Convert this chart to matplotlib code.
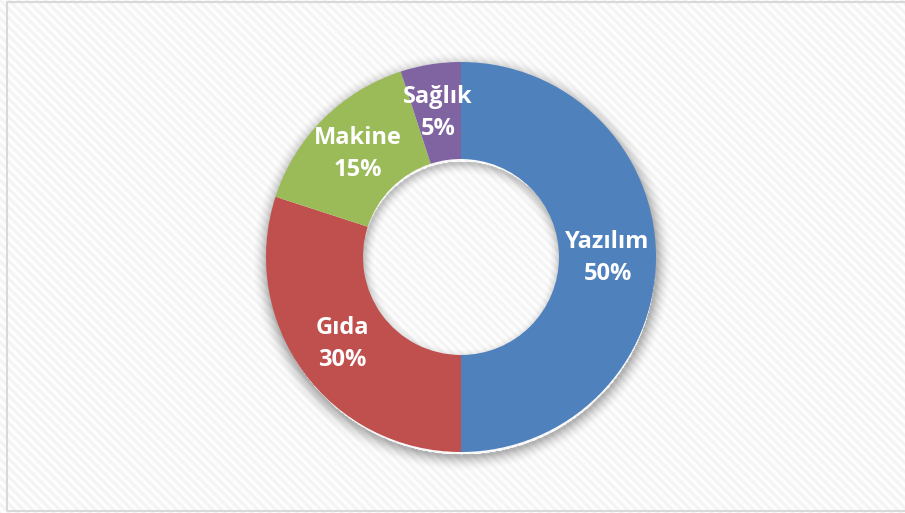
import matplotlib.pyplot as plt
import numpy as np
from matplotlib.patches import Rectangle

# Доли по секторам
sectors = ["Yazılım", "Gıda", "Makine", "Sağlık"]
shares = [50, 30, 15, 5]
colors = ["#4F81BD", "#C0504D", "#9BBB59", "#8064A2"]

W, H = 905, 513
cx, cy = 461, H - 257
r_out, r_in = 195, 98

fig = plt.figure(figsize=(W / 100, H / 100), dpi=100)

# фон в диагональную полоску
bg = fig.add_axes([0, 0, 1, 1])
yy, xx = np.mgrid[0:H, 0:W]
stripe = 0.5 + 0.5 * np.cos(2 * np.pi * (xx - yy) / 9.0)
gray = 1.0 - 0.045 * stripe
bg.imshow(np.dstack([gray, gray, gray]), extent=(0, W, 0, H), origin="upper")

# мягкая тень вокруг кольца
d = np.hypot(xx - cx, (H - yy) - cy + 4)
shadow = np.zeros((H, W, 4))
outer = np.clip(1 - (d - r_out) / 16, 0, 1) * (d > r_out - 2)
inner = np.clip(1 - (r_in - d) / 12, 0, 1) * (d < r_in + 2)
shadow[..., 3] = 0.28 * outer ** 2 + 0.22 * inner ** 2
bg.imshow(shadow, extent=(0, W, 0, H), origin="upper")
bg.set_xlim(0, W)
bg.set_ylim(0, H)
bg.axis("off")

ax = fig.add_axes([0, 0, 1, 1])
ax.patch.set_alpha(0)
wedges, _ = ax.pie(shares, colors=colors, startangle=90, counterclock=False,
                   center=(cx, cy), radius=r_out,
                   wedgeprops=dict(width=r_out - r_in, linewidth=0))
ax.set_xlim(0, W)
ax.set_ylim(0, H)
ax.set_aspect("auto")
ax.axis("off")

r_mid = (r_out + r_in) / 2
for w, name, v in zip(wedges, sectors, shares):
    ang = np.deg2rad((w.theta1 + w.theta2) / 2)
    x = cx + r_mid * np.cos(ang)
    y = cy + r_mid * np.sin(ang)
    ax.text(x, y + 15, name, ha="center", va="center", color="white",
            fontsize=17, fontweight="bold", family="Open Sans")
    ax.text(x, y - 17, f"{v}%", ha="center", va="center", color="white",
            fontsize=17, fontweight="bold", family="Open Sans")

# рамка
ax.add_patch(Rectangle((7, 2), W, H - 4, fill=False, edgecolor="#d9d9d9",
                       linewidth=1.5, clip_on=False))

fig.savefig("out.png", dpi=100)
